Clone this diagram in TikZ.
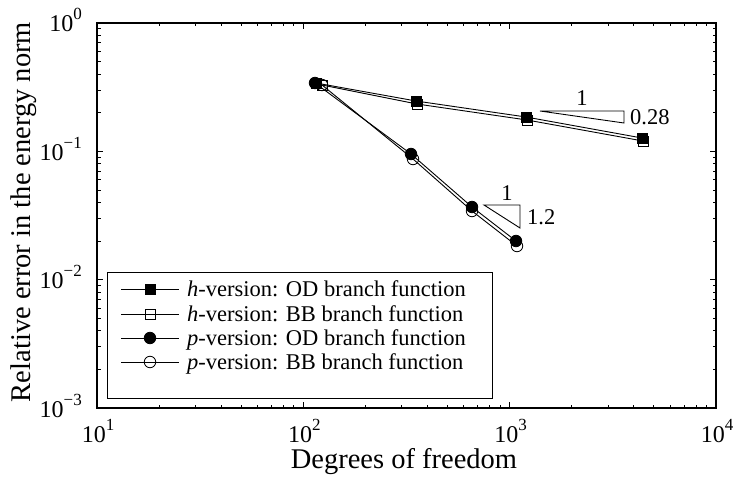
\documentclass[tikz,border=0pt]{standalone}
\usepackage{fontspec}
\setmainfont{Liberation Serif}
\newcommand\tlab[1]{10\raisebox{12pt}{\fontsize{17}{17}\selectfont #1}}
\begin{document}
\begin{tikzpicture}[x=1pt,y=-1pt,
  axisline/.style={line width=1.3pt},
  tickline/.style={line width=0.9pt},
  dataline/.style={line width=0.9pt},
  fsq/.style={draw, fill=black, rectangle, minimum size=10pt, inner sep=0pt, line width=0.8pt},
  esq/.style={draw, rectangle, minimum size=10pt, inner sep=0pt, line width=0.8pt},
  fci/.style={draw, fill=black, circle, minimum size=11.5pt, inner sep=0pt, line width=0.8pt},
  eci/.style={draw, circle, minimum size=11.5pt, inner sep=0pt, line width=0.8pt},
  ticklab/.style={font=\fontsize{24}{28}\selectfont, inner sep=0pt},
  axlab/.style={font=\fontsize{28.5}{32}\selectfont, inner sep=0pt},
  leglab/.style={font=\fontsize{22.5}{26}\selectfont, inner sep=0pt, anchor=base west},
  annlab/.style={font=\fontsize{22.5}{26}\selectfont, inner sep=0pt}]
\useasboundingbox (0,0) rectangle (733,481);
% axes box
\draw[axisline] (97,23) rectangle (716,408);
% x ticks
\foreach \d in {0,1,2}{
  \foreach \m in {2,...,9}{
    \pgfmathsetmacro\xx{97+206.33*(\d+ln(\m)/ln(10))}
    \draw[tickline] (\xx,408) -- (\xx,404.5);
    \draw[tickline] (\xx,23) -- (\xx,26.5);
  }
}
\foreach \d in {1,2}{
  \pgfmathsetmacro\xx{97+206.33*\d}
  \draw[tickline] (\xx,408) -- (\xx,402);
  \draw[tickline] (\xx,23) -- (\xx,29);
}
% y ticks
\foreach \d in {0,1,2}{
  \foreach \m in {2,...,9}{
    \pgfmathsetmacro\yy{408-128.33*(\d+ln(\m)/ln(10))}
    \draw[tickline] (97,\yy) -- (100.5,\yy);
    \draw[tickline] (716,\yy) -- (712.5,\yy);
  }
}
\foreach \d in {1,2}{
  \pgfmathsetmacro\yy{408-128.33*\d}
  \draw[tickline] (97,\yy) -- (103,\yy);
  \draw[tickline] (716,\yy) -- (710,\yy);
}
% tick labels
\node[ticklab, anchor=base east] (y0) at (82,32) {\tlab{0}};
\node[ticklab, anchor=base east] (y1) at (82,160.3) {\tlab{−1}};
\node[ticklab, anchor=base east] (y2) at (82,288.7) {\tlab{−2}};
\node[ticklab, anchor=base east] (y3) at (82,417) {\tlab{−3}};
\node[ticklab, anchor=base] (x1) at (98,442) {\tlab{1}};
\node[ticklab, anchor=base] (x2) at (304.3,442) {\tlab{2}};
\node[ticklab, anchor=base] (x3) at (510.7,442) {\tlab{3}};
\node[ticklab, anchor=base] (x4) at (717,442) {\tlab{4}};
% axis labels
\node[axlab, anchor=base] (xl) at (404,468) {Degrees of freedom};
\node[axlab, anchor=base, rotate=90] (yl) at (30,212) {Relative error in the energy norm};
% data coordinates
\coordinate (ho1) at (316,83);  \coordinate (ho2) at (416,101); \coordinate (ho3) at (526,117); \coordinate (ho4) at (642,138);
\coordinate (hb1) at (322,85);  \coordinate (hb2) at (417,104); \coordinate (hb3) at (527,120); \coordinate (hb4) at (643,141);
\coordinate (po1) at (315,83);  \coordinate (po2) at (411,154); \coordinate (po3) at (472,207); \coordinate (po4) at (516,241);
\coordinate (pb1) at (322,85);  \coordinate (pb2) at (413,159); \coordinate (pb3) at (472,211); \coordinate (pb4) at (517,246);
% h OD
\draw[dataline] (ho1) -- (ho2) -- (ho3) -- (ho4);
\foreach \i in {1,...,4} \node[fsq] at (ho\i) {};
% h BB
\draw[dataline] (hb1) -- (hb2) -- (hb3) -- (hb4);
\foreach \i in {1,...,4} \node[esq] at (hb\i) {};
% p OD
\draw[dataline] (po1) -- (po2) -- (po3) -- (po4);
\foreach \i in {1,...,4} \node[fci] at (po\i) {};
% p BB
\draw[dataline] (pb1) -- (pb2) -- (pb3) -- (pb4);
\foreach \i in {1,...,4} \node[eci] at (pb\i) {};
% slope triangles
\coordinate (ta) at (540,111); \coordinate (tb) at (624,111); \coordinate (tc) at (624,123);
\draw[line width=0.9pt] (ta) -- (tb) -- (tc) -- cycle;
\node[annlab] (t1) at (582,98) {1};
\node[annlab, anchor=west] (t2) at (630,117) {0.28};
\coordinate (sa) at (484,205); \coordinate (sb) at (520,205); \coordinate (sc) at (520,228);
\draw[line width=0.9pt] (sa) -- (sb) -- (sc) -- cycle;
\node[annlab] (s1) at (507,193) {1};
\node[annlab, anchor=west] (s2) at (527,217) {1.2};
% legend
\draw[line width=1pt, fill=white] (107,272) rectangle (492,398);
\foreach \yy/\mk/\lab in {289/fsq/{\textit{h}-version: OD branch function},
                         314/esq/{\textit{h}-version: BB branch function},
                         338/fci/{\textit{p}-version: OD branch function},
                         362/eci/{\textit{p}-version: BB branch function}}{
  \coordinate (la) at (121,\yy); \coordinate (lb) at (179,\yy);
  \draw[dataline] (la) -- (lb);
  \node[\mk] at (150,\yy) {};
  \node[leglab] at (187,\yy+7.5) {\lab};
}
\end{tikzpicture}
\end{document}
